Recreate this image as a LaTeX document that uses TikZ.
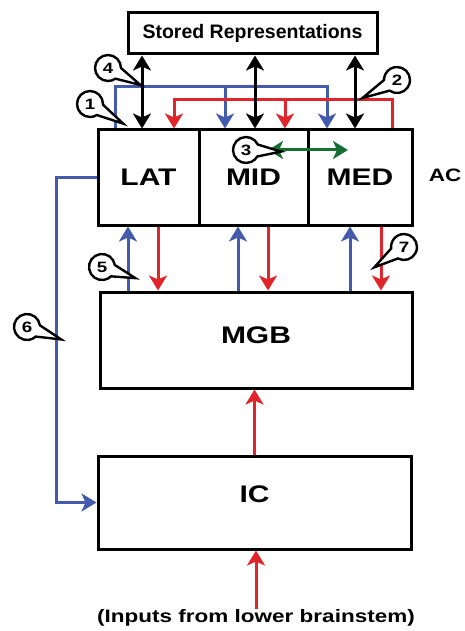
\documentclass[tikz,border=0pt]{standalone}
\usepackage{fontspec}
\setmainfont{Liberation Sans}
\newfontfamily\widefont{Liberation Sans}[FakeStretch=1.25]
\usepackage{tikz}
\usetikzlibrary{arrows.meta, shapes.callouts}
\definecolor{pathblue}{RGB}{68,90,172}
\definecolor{pathred}{RGB}{224,38,42}
\definecolor{pathgreen}{RGB}{22,110,52}
\tikzstyle{box} = [rectangle, draw, line width=3pt, inner sep=0pt]
\tikzstyle{arrow} = [line width=3pt, -{Stealth[length=15pt,width=18pt,inset=4pt]}]
\tikzstyle{dblarrow} = [line width=3pt, {Stealth[length=15pt,width=18pt,inset=4pt]}-{Stealth[length=15pt,width=18pt,inset=4pt]}]
\tikzstyle{bubble} = [ellipse callout, draw, fill=white, line width=2.4pt, minimum width=26pt, minimum height=26pt, inner sep=0pt, callout pointer arc=55, font=\widefont\bfseries\fontsize{15}{15}\selectfont]

\begin{document}
\begin{tikzpicture}[x=1pt, y=-1pt, font=\widefont\bfseries\fontsize{24}{24}\selectfont]
\useasboundingbox (0,0) rectangle (464,631);

\node (stored) [box, minimum width=249pt, minimum height=41pt, font=\bfseries\fontsize{19.5}{20}\selectfont] at (252.5,33.5) {Stored Representations};
\node (lat) [box, minimum width=101pt, minimum height=95pt] at (148.5,177.5) {LAT};
\node (mid) [box, minimum width=109pt, minimum height=95pt] at (253.5,177.5) {MID};
\node (med) [box, minimum width=104pt, minimum height=95pt] at (360,177.5) {MED};
\node (ac) [font=\widefont\bfseries\fontsize{18}{18}\selectfont] at (445,175) {AC};
\node (mgb) [box, minimum width=312pt, minimum height=96pt, label={[yshift=4.5pt]center:MGB}] at (256,340) {};
\node (ic) [box, minimum width=313pt, minimum height=93pt, label={[yshift=8pt]center:IC}] at (254.5,502.5) {};
\node (inputs) [inner sep=0pt, font=\widefont\bfseries\fontsize{18}{18}\selectfont] at (256,618) {(Inputs from lower brainstem)};

\draw[arrow, pathblue] ([shift={(18.5,0)}]lat.north west) -- ++(0,-41.5) -| ([shift={(20.5,0)}]med.north west);
\draw[arrow, pathblue] ([shift={(27.5,0)}]mid.north west) ++(0,-41.5) -- ([shift={(27.5,0)}]mid.north west);
\draw[arrow, pathred] ([shift={(-21.5,0)}]med.north east) -- ++(0,-28.5) -| ([shift={(77.5,0)}]lat.north west);
\draw[arrow, pathred] ([shift={(87.5,0)}]mid.north west) ++(0,-28.5) -- ([shift={(87.5,0)}]mid.north west);

\draw[dblarrow] ([shift={(-6.5,0)}]lat.north) -- ([shift={(-6.5,0)}]lat.north |- stored.south);
\draw[dblarrow] ([shift={(1.5,0)}]mid.north) -- ([shift={(1.5,0)}]mid.north |- stored.south);
\draw[dblarrow] ([shift={(-5,0)}]med.north) -- ([shift={(-5,0)}]med.north |- stored.south);
\draw[dblarrow, pathgreen] ([shift={(14.5,-27.5)}]mid.center) -- ([shift={(-12,-27.5)}]med.center);

\draw[arrow, pathblue] ([shift={(-20.5,0)}]lat.south |- mgb.north) -- ([shift={(-20.5,0)}]lat.south);
\draw[arrow, pathred] ([shift={(9.5,0)}]lat.south) -- ([shift={(9.5,0)}]lat.south |- mgb.north);
\draw[arrow, pathblue] ([shift={(-15.5,0)}]mid.south |- mgb.north) -- ([shift={(-15.5,0)}]mid.south);
\draw[arrow, pathred] ([shift={(14.5,0)}]mid.south) -- ([shift={(14.5,0)}]mid.south |- mgb.north);
\draw[arrow, pathblue] ([shift={(-10,0)}]med.south |- mgb.north) -- ([shift={(-10,0)}]med.south);
\draw[arrow, pathred] ([shift={(21,0)}]med.south) -- ([shift={(21,0)}]med.south |- mgb.north);

\draw[arrow, pathred] (ic.north) -- (ic.north |- mgb.south);
\draw[arrow, pathred] (inputs.north) -- (inputs.north |- ic.south);
\draw[arrow, pathblue] (lat.west) -- ++(-40,0) |- (ic.west);

\node (n1) [bubble, callout relative pointer={(22,13)}] at (90,104) {1};
\node (n2) [bubble, callout relative pointer={(-23,12)}] at (397,80) {2};
\node (n3) [bubble, callout relative pointer={(22,1)}] at (246,150) {3};
\node (n4) [bubble, callout relative pointer={(21,11)}] at (108,68) {4};
\node (n5) [bubble, callout relative pointer={(21,7)}] at (102,267) {5};
\node (n6) [bubble, callout relative pointer={(22,8)}] at (27,327) {6};
\node (n7) [bubble, callout relative pointer={(-19,13)}] at (404,247) {7};

\end{tikzpicture}
\end{document}
